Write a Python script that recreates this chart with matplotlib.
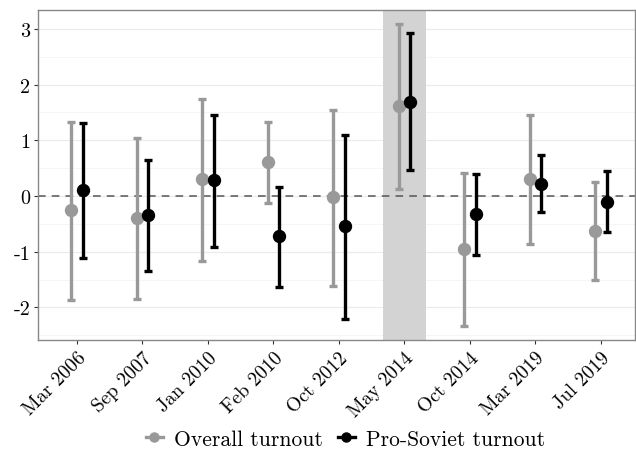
import matplotlib
matplotlib.use("Agg")
import matplotlib.pyplot as plt
from matplotlib.lines import Line2D
import numpy as np

plt.rcParams["font.family"] = ["cmr10", "DejaVu Serif"]
plt.rcParams["axes.unicode_minus"] = False
plt.rcParams["mathtext.fontset"] = "cm"

# election labels
elections = ["Mar 2006", "Sep 2007", "Jan 2010", "Feb 2010", "Oct 2012",
             "May 2014", "Oct 2014", "Mar 2019", "Jul 2019"]

# overall turnout: estimate, lower, upper
overall_est = [-0.26, -0.40, 0.31, 0.61, -0.02, 1.61, -0.95, 0.31, -0.62]
overall_lo = [-1.87, -1.85, -1.16, -0.12, -1.61, 0.13, -2.33, -0.87, -1.50]
overall_hi = [1.32, 1.05, 1.75, 1.33, 1.55, 3.08, 0.41, 1.46, 0.26]

# pro-soviet turnout: estimate, lower, upper
soviet_est = [0.11, -0.34, 0.28, -0.72, -0.54, 1.69, -0.33, 0.21, -0.10]
soviet_lo = [-1.11, -1.34, -0.91, -1.63, -2.20, 0.46, -1.06, -0.29, -0.65]
soviet_hi = [1.31, 0.65, 1.45, 0.17, 1.10, 2.92, 0.40, 0.73, 0.45]

highlight = "May 2014"

fig = plt.figure(figsize=(6.36, 4.56), dpi=100)
ax = fig.add_axes([0.0605, 0.252, 0.938, 0.724])

x = np.arange(1, len(elections) + 1)
dodge = 0.085

# shaded period (drawn over the grid)
hx = elections.index(highlight) + 1
ax.axvspan(hx - 0.33, hx + 0.33, color="#d3d3d3", zorder=0.8, lw=0)

ax.axhline(0, color="#555555", lw=1.1, ls=(0, (5, 4)), zorder=1)

def draw(xpos, est, lo, hi, color):
    est = np.array(est)
    err = [est - np.array(lo), np.array(hi) - est]
    ax.errorbar(xpos, est, yerr=err, fmt="o", color=color, ms=8.6,
                elinewidth=2.4, capsize=2.6, capthick=2.4, zorder=3)

draw(x - dodge, overall_est, overall_lo, overall_hi, "#999999")
draw(x + dodge, soviet_est, soviet_lo, soviet_hi, "black")

ax.set_xlim(0.412, 9.52)
ax.set_ylim(-2.587, 3.341)
ax.set_xticks(x)
ax.set_xticklabels(elections, rotation=45, ha="right", rotation_mode="anchor", fontsize=14)
ax.set_yticks([-2, -1, 0, 1, 2, 3])
ax.set_yticks(np.arange(-2.5, 3.5, 1.0), minor=True)
ax.tick_params(axis="y", labelsize=14.5, length=3, color="#333333", pad=3)
ax.tick_params(axis="x", length=3, color="#333333", pad=3)
ax.tick_params(axis="y", which="minor", length=0)

ax.grid(axis="y", which="major", color="#ebebeb", lw=0.8)
ax.grid(axis="y", which="minor", color="#f4f4f4", lw=0.6)
ax.set_axisbelow(True)

for s in ax.spines.values():
    s.set_color("#888888")
    s.set_linewidth(1.0)

handles = [
    Line2D([], [], color="#999999", marker="o", ms=6.5, lw=2.4, label="Overall turnout"),
    Line2D([], [], color="black", marker="o", ms=6.5, lw=2.4, label="Pro-Soviet turnout"),
]
fig.legend(handles=handles, loc="center", bbox_to_anchor=(0.543, 0.035), ncol=2,
           frameon=False, fontsize=15.5, handlelength=0.8, handletextpad=0.5,
           columnspacing=0.7)

fig.savefig("out.png", dpi=100)
